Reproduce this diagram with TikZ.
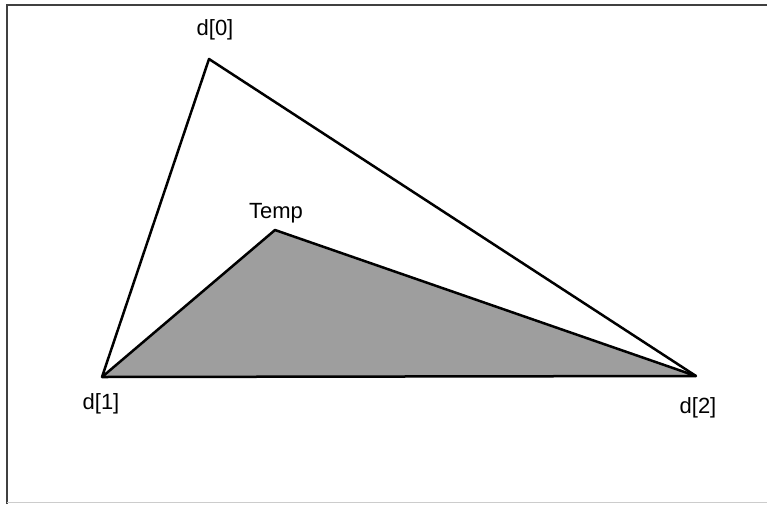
\documentclass[tikz,border=0pt]{standalone}
\usepackage{fontspec}
\setmainfont{Liberation Sans}
\usetikzlibrary{positioning}
\definecolor{tempfill}{gray}{0.62}
\definecolor{framegray}{gray}{0.25}

\begin{document}
\begin{tikzpicture}[x=1pt, y=-1pt,
		edge/.style={black, line width=2.5pt, line join=round},
		lbl/.style={font=\fontsize{22}{24}\selectfont, inner sep=1pt}]
			\useasboundingbox (0,0) rectangle (767,504);

			% frame
			\draw[framegray, line width=2.5pt] (7,504) -- (7,5) -- (767,5);
			\draw[gray!40, line width=1pt] (7,502) -- (767,502);

			% points
			\coordinate (d0) at (209, 59);
			\coordinate (d1) at (102, 377);
			\coordinate (d2) at (696, 376);
			\coordinate (temp) at (275, 230);

			% shaded triangle d[1], Temp, d[2]
			\fill[tempfill] (d1) -- (temp) -- (d2) -- cycle;
			\draw[edge] (d1) -- (temp) -- (d2) -- cycle;

			% outer triangle
			\draw[edge] (d1) -- (d0) -- (d2);

			\node[lbl] (l0) at (215, 30) {d[0]};
			\node[lbl] (lt) at (276, 213) {Temp};
			\node[lbl] (l1) at (101, 404) {d[1]};
			\node[lbl] (l2) at (698, 408) {d[2]};

		\end{tikzpicture}
\end{document}
